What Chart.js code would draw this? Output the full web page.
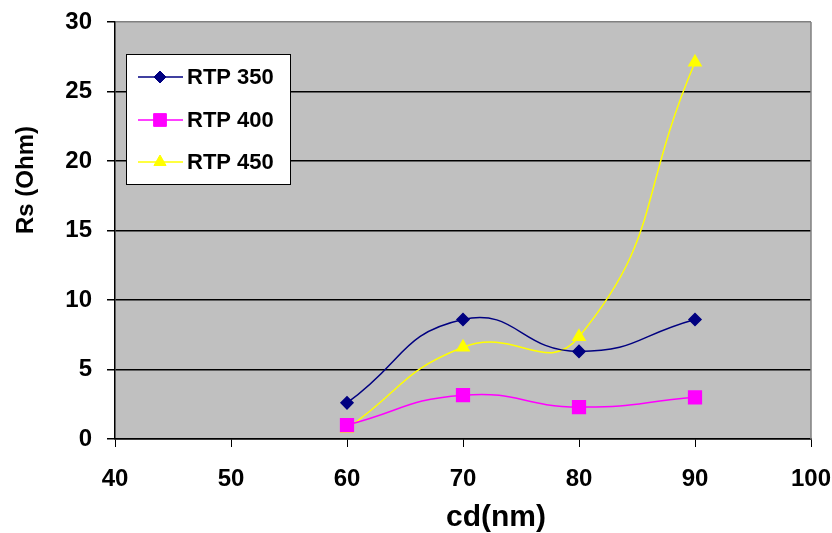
<!DOCTYPE html>
<html><head><meta charset="utf-8">
<script src="https://cdn.jsdelivr.net/npm/chart.js@4.4.1/dist/chart.umd.min.js"></script>
<style>html,body{margin:0;padding:0;background:#fff}#wrap{width:832px;height:533px;position:relative}</style>
</head><body><div id="wrap"><canvas id="c"></canvas></div>
<script>
// ---- data ----
const cd = [60, 70, 80, 90];
const rtp350 = [2.6, 8.6, 6.3, 8.6];
const rtp400 = [1.0, 3.15, 2.3, 3.0];
const rtp450 = [0.75, 6.6, 7.35, 27.1];
const seriesNames = ['RTP 350', 'RTP 400', 'RTP 450'];
const xTitle = 'cd(nm)';
const yTitle = 'Rs (Ohm)';

const FONT = "'Liberation Sans',Arial,sans-serif";

function pts(arr) { return cd.map((x, i) => ({ x: x, y: arr[i] })); }

function drawMarker(ctx, style, x, y, r, color) {
  ctx.save();
  ctx.fillStyle = color; ctx.strokeStyle = color; ctx.lineWidth = 1;
  ctx.beginPath();
  if (style === 'rectRot') {
    ctx.moveTo(x, y - r); ctx.lineTo(x + r, y); ctx.lineTo(x, y + r); ctx.lineTo(x - r, y);
  } else if (style === 'rect') {
    const s = r * Math.SQRT1_2;
    ctx.rect(x - s, y - s, 2 * s, 2 * s);
  } else {
    const w = r * Math.sqrt(3) / 2;
    ctx.moveTo(x, y - r); ctx.lineTo(x + w, y + r / 2); ctx.lineTo(x - w, y + r / 2);
  }
  ctx.closePath(); ctx.fill(); ctx.stroke();
  ctx.restore();
}

const bgPlugin = {
  id: 'plotBg',
  beforeDraw(chart) {
    const a = chart.chartArea, ctx = chart.ctx;
    ctx.save();
    ctx.fillStyle = '#c0c0c0';
    ctx.fillRect(a.left, a.top, a.right - a.left, a.bottom - a.top);
    ctx.restore();
  },
  beforeDatasetsDraw(chart) {
    const a = chart.chartArea, ctx = chart.ctx;
    ctx.save();
    ctx.strokeStyle = '#808080'; ctx.lineWidth = 1.5;
    ctx.beginPath();
    ctx.moveTo(a.right, a.top); ctx.lineTo(a.right, a.bottom);
    ctx.stroke();
    ctx.restore();
  },
  afterDraw(chart) {
    const ctx = chart.ctx;
    ctx.save();
    ctx.fillStyle = '#000';
    ctx.textAlign = 'center'; ctx.textBaseline = 'middle';
    ctx.font = 'bold 30px ' + FONT;
    ctx.fillText(xTitle, 496, 518);
    ctx.translate(26, 180);
    ctx.rotate(-Math.PI / 2);
    ctx.font = 'bold 24px ' + FONT;
    ctx.fillText(yTitle, 0, 0);
    ctx.restore();
  }
};

const legendPlugin = {
  id: 'boxLegend',
  afterDraw(chart) {
    const ctx = chart.ctx;
    const bx = 126, by = 54, bw = 164, bh = 130;
    ctx.save();
    ctx.fillStyle = '#ffffff';
    ctx.fillRect(bx, by, bw, bh);
    ctx.strokeStyle = '#000000'; ctx.lineWidth = 1;
    ctx.strokeRect(bx + 0.5, by + 0.5, bw, bh);
    const rows = [77, 120, 162];
    chart.data.datasets.forEach((ds, i) => {
      const y = rows[i];
      ctx.strokeStyle = ds.borderColor; ctx.lineWidth = 1.5;
      ctx.beginPath(); ctx.moveTo(138, y); ctx.lineTo(183, y); ctx.stroke();
      drawMarker(ctx, ds.pointStyle, 160, y, ds.pointRadius, ds.pointBackgroundColor);
      ctx.fillStyle = '#000';
      ctx.font = 'bold 22px ' + FONT;
      ctx.textBaseline = 'middle'; ctx.textAlign = 'left';
      ctx.fillText(ds.label, 187, y + 1);
    });
    ctx.restore();
  }
};

new Chart(document.getElementById('c'), {
  type: 'line',
  data: {
    datasets: [
      { label: seriesNames[0], data: pts(rtp350), borderColor: '#000080', backgroundColor: '#000080',
        pointBackgroundColor: '#000080', pointBorderColor: '#000080', pointStyle: 'rectRot', pointRadius: 6, borderWidth: 1.5 },
      { label: seriesNames[1], data: pts(rtp400), borderColor: '#FF00FF', backgroundColor: '#FF00FF',
        pointBackgroundColor: '#FF00FF', pointBorderColor: '#FF00FF', pointStyle: 'rect', pointRadius: 9, borderWidth: 1.5 },
      { label: seriesNames[2], data: pts(rtp450), borderColor: '#FFFF00', backgroundColor: '#FFFF00',
        pointBackgroundColor: '#FFFF00', pointBorderColor: '#FFFF00', pointStyle: 'triangle', pointRadius: 7, borderWidth: 1.5 }
    ]
  },
  options: {
    responsive: true, maintainAspectRatio: false, animation: false,
    devicePixelRatio: 1,
    layout: { padding: { top: 22, right: 21, left: 0, bottom: 0 } },
    elements: { line: { tension: 0.5, fill: false } },
    plugins: { legend: { display: false }, tooltip: { enabled: false } },
    scales: {
      x: {
        type: 'linear', min: 40, max: 100,
        ticks: { stepSize: 10, color: '#000', padding: 18, font: { family: FONT, size: 24, weight: 'bold' } },
        grid: { drawOnChartArea: false, drawTicks: true, tickLength: 8, tickColor: '#000' },
        border: { display: true, color: '#000', width: 1.5 },
        title: { display: false },
        afterFit(s) { s.height = 94; s.paddingLeft = 0; s.paddingRight = 0; }
      },
      y: {
        type: 'linear', min: 0, max: 30,
        ticks: { stepSize: 5, color: '#000', padding: 15, font: { family: FONT, size: 24, weight: 'bold' } },
        grid: { drawTicks: true, tickLength: 8, tickColor: '#000', lineWidth: 1.5,
          color: (c) => (c.tick && c.tick.value === 30) ? '#808080' : '#000000' },
        border: { display: true, color: '#000', width: 1.5 },
        title: { display: false },
        afterFit(s) { s.width = 115; s.paddingTop = 0; s.paddingBottom = 0; }
      }
    }
  },
  plugins: [bgPlugin, legendPlugin]
});
</script></body></html>
